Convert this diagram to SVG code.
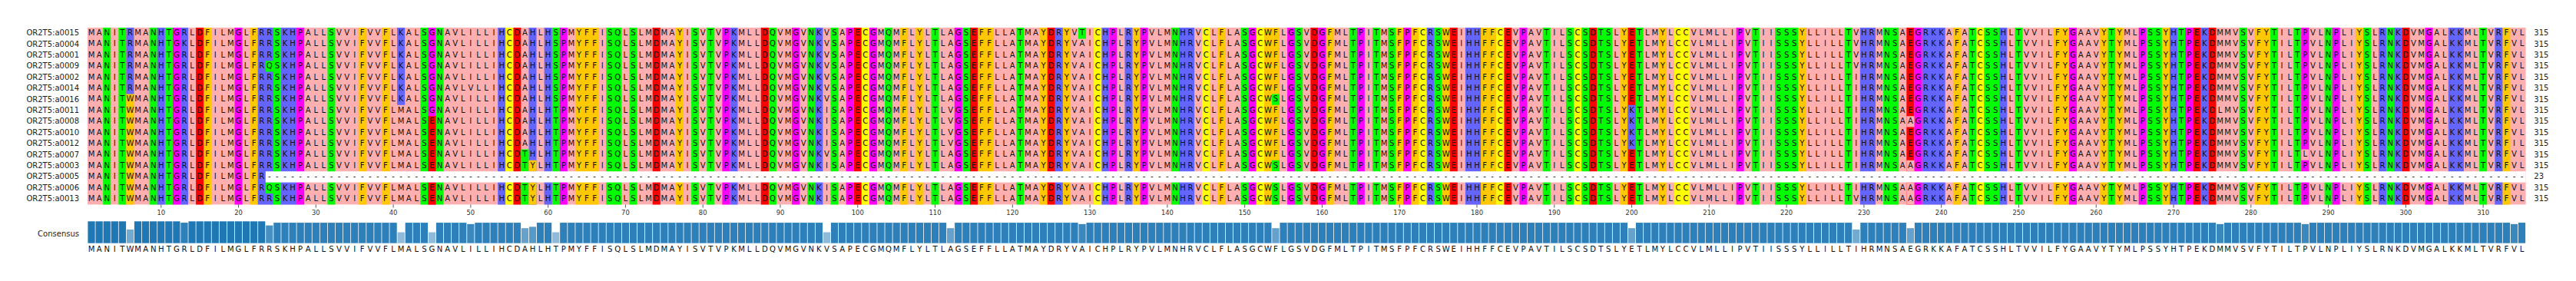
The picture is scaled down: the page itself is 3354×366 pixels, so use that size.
<svg xmlns="http://www.w3.org/2000/svg" width="3354" height="366" viewBox="0 0 3354 366">
<style>
.s{font-family:"DejaVu Sans",sans-serif;font-size:10px;fill:#111;text-anchor:middle}
.l{font-family:"DejaVu Sans",sans-serif;font-size:10px;fill:#222;text-anchor:end}
.n{font-family:"DejaVu Sans",sans-serif;font-size:10px;fill:#222}
.t{font-family:"DejaVu Sans",sans-serif;font-size:8.3px;fill:#333;text-anchor:middle}
.p{fill:#ffafaf}.o{fill:#ffc800}.b{fill:#6464ff}.r{fill:#ff0000}.g{fill:#00ff00}.m{fill:#ff00ff}.y{fill:#ffff00}.w{fill:#ffffff}
</style>
<defs><clipPath id="aln"><rect x="0" y="0" width="3290" height="366"/></clipPath></defs>
<rect width="3354" height="366" fill="#fff"/>
<g id="cells" transform="translate(114,36) scale(10.078,14.4)">
<rect class="p" width="315" height="16"/>
<path class="g" d="M2 0h1v16h-1zM4 0h1v16h-1zM8 0h1v16h-1zM10 0h1v16h-1zM24 0h1v16h-1zM31 0h1v16h-1zM43 0h1v16h-1zM45 0h1v16h-1zM60 0h1v16h-1zM67 0h2v16h-2zM70 0h1v16h-1zM78 0h1v16h-1zM80 0h1v16h-1zM88 0h1v16h-1zM93 0h1v16h-1zM96 0h1v16h-1zM103 0h1v16h-1zM109 0h1v16h-1zM113 0h1v16h-1zM120 0h1v16h-1zM140 0h1v16h-1zM149 0h1v16h-1zM156 0h1v16h-1zM163 0h1v16h-1zM166 0h1v16h-1zM168 0h1v16h-1zM174 0h1v16h-1zM188 0h1v16h-1zM191 0h1v16h-1zM193 0h1v16h-1zM195 0h2v16h-2zM200 0h1v16h-1zM215 0h1v16h-1zM218 0h3v16h-3zM227 0h1v16h-1zM232 0h2v16h-2zM243 0h1v16h-1zM245 0h2v16h-2zM249 0h1v16h-1zM261 0h1v16h-1zM266 0h2v16h-2zM270 0h1v16h-1zM278 0h1v16h-1zM282 0h1v16h-1zM285 0h1v16h-1zM289 0h1v16h-1zM294 0h1v16h-1zM297 0h1v16h-1zM309 0h1v16h-1z"/>
<path class="o" d="M5 0h1v16h-1zM15 0h1v16h-1zM21 0h1v16h-1zM35 0h1v16h-1zM38 0h1v16h-1zM63 0h3v16h-3zM76 0h1v16h-1zM105 0h1v16h-1zM107 0h1v16h-1zM115 0h2v16h-2zM123 0h1v16h-1zM126 0h1v16h-1zM135 0h1v16h-1zM146 0h1v16h-1zM152 0h2v16h-2zM160 0h1v16h-1zM169 0h1v16h-1zM171 0h1v16h-1zM175 0h1v16h-1zM180 0h2v16h-2zM198 0h1v16h-1zM203 0h1v16h-1zM221 0h1v16h-1zM241 0h1v16h-1zM254 0h2v16h-2zM260 0h1v16h-1zM262 0h1v16h-1zM268 0h1v16h-1zM280 0h2v16h-2zM293 0h1v16h-1zM312 0h1v16h-1z"/>
<path class="b" d="M9 0h1v16h-1zM12 0h1v16h-1zM22 0h2v16h-2zM25 0h2v16h-2zM53 0h1v16h-1zM57 0h1v16h-1zM59 0h1v16h-1zM83 0h1v16h-1zM94 0h1v16h-1zM125 0h1v16h-1zM131 0h1v16h-1zM134 0h1v16h-1zM141 0h2v16h-2zM173 0h1v16h-1zM178 0h2v16h-2zM229 0h2v16h-2zM237 0h3v16h-3zM247 0h1v16h-1zM269 0h1v16h-1zM273 0h1v16h-1zM296 0h1v16h-1zM298 0h1v16h-1zM305 0h2v16h-2zM311 0h1v16h-1z"/>
<path class="r" d="M14 0h1v16h-1zM55 0h1v16h-1zM73 0h1v16h-1zM87 0h1v16h-1zM99 0h1v16h-1zM114 0h1v16h-1zM124 0h1v16h-1zM158 0h1v16h-1zM176 0h1v16h-1zM183 0h1v16h-1zM194 0h1v16h-1zM199 0h1v16h-1zM235 0h1v16h-1zM272 0h1v16h-1zM274 0h1v16h-1zM299 0h1v16h-1z"/>
<path class="m" d="M11 0h1v16h-1zM19 0h1v16h-1zM27 0h1v16h-1zM44 0h1v16h-1zM61 0h1v16h-1zM82 0h1v16h-1zM91 0h1v16h-1zM98 0h1v16h-1zM101 0h1v16h-1zM112 0h1v16h-1zM132 0h1v16h-1zM136 0h1v16h-1zM150 0h1v16h-1zM155 0h1v16h-1zM159 0h1v16h-1zM164 0h1v16h-1zM170 0h1v16h-1zM185 0h1v16h-1zM213 0h1v16h-1zM236 0h1v16h-1zM256 0h1v16h-1zM265 0h1v16h-1zM271 0h1v16h-1zM286 0h1v16h-1zM290 0h1v16h-1zM302 0h1v16h-1z"/>
<path class="y" d="M54 0h1v16h-1zM100 0h1v16h-1zM130 0h1v16h-1zM144 0h1v16h-1zM151 0h1v16h-1zM172 0h1v16h-1zM182 0h1v16h-1zM192 0h1v16h-1zM205 0h2v16h-2zM244 0h1v16h-1z"/>
<path class="b" d="M5 0h1v6h-1zM40 0h1v7h-1zM199 7h1v4h-1z"/>
<path class="g" d="M23 3h1v1h-1zM23 14h1v1h-1zM56 11h1v2h-1zM56 14h1v2h-1zM128 0h1v1h-1zM153 6h1v1h-1zM153 12h1v1h-1zM153 14h1v2h-1z"/>
<path class="r" d="M44 8h1v5h-1zM44 14h1v2h-1z"/>
<path class="o" d="M57 12h1v1h-1zM57 14h1v2h-1z"/>
<path class="p" d="M235 8h1v1h-1zM235 12h1v1h-1zM235 14h1v2h-1zM286 11h1v1h-1z"/>
<rect class="w" x="23" y="13" width="292" height="1"/>
</g>
<g id="seq-a0015"><text class="l" x="103" y="46.1">OR2T5:a0015</text><text class="s" transform="translate(114,0) scale(1.0078,1)" y="46.1" x="5 15 25 35 45 55 65 75 85 95 105 115 125 135 145 155 165 175 185 195 205 215 225 235 245 255 265 275 285 295 305 315 325 335 345 355 365 375 385 395 405 415 425 435 445 455 465 475 485 495 505 515 525 535 545 555 565 575 585 595 605 615 625 635 645 655 665 675 685 695 705 715 725 735 745 755 765 775 785 795 805 815 825 835 845 855 865 875 885 895 905 915 925 935 945 955 965 975 985 995 1005 1015 1025 1035 1045 1055 1065 1075 1085 1095 1105 1115 1125 1135 1145 1155 1165 1175 1185 1195 1205 1215 1225 1235 1245 1255 1265 1275 1285 1295 1305 1315 1325 1335 1345 1355 1365 1375 1385 1395 1405 1415 1425 1435 1445 1455 1465 1475 1485 1495 1505 1515 1525 1535 1545 1555 1565 1575 1585 1595 1605 1615 1625 1635 1645 1655 1665 1675 1685 1695 1705 1715 1725 1735 1745 1755 1765 1775 1785 1795 1805 1815 1825 1835 1845 1855 1865 1875 1885 1895 1905 1915 1925 1935 1945 1955 1965 1975 1985 1995 2005 2015 2025 2035 2045 2055 2065 2075 2085 2095 2105 2115 2125 2135 2145 2155 2165 2175 2185 2195 2205 2215 2225 2235 2245 2255 2265 2275 2285 2295 2305 2315 2325 2335 2345 2355 2365 2375 2385 2395 2405 2415 2425 2435 2445 2455 2465 2475 2485 2495 2505 2515 2525 2535 2545 2555 2565 2575 2585 2595 2605 2615 2625 2635 2645 2655 2665 2675 2685 2695 2705 2715 2725 2735 2745 2755 2765 2775 2785 2795 2805 2815 2825 2835 2845 2855 2865 2875 2885 2895 2905 2915 2925 2935 2945 2955 2965 2975 2985 2995 3005 3015 3025 3035 3045 3055 3065 3075 3085 3095 3105 3115 3125 3135 3145">MANITRMANHTGRLDFILMGLFRRSKHPALLSVVIFVVFLKALSGNAVLILLIHCDAHLHSPMYFFISQLSLMDMAYISVTVPKMLLDQVMGVNKVSAPECGMQMFLYLTLAGSEFFLLATMAYDRYVTICHPLRYPVLMNHRVCLFLASGCWFLGSVDGFMLTPITMSFPFCRSWEIHHFFCEVPAVTILSCSDTSLYETLMYLCCVLMLLIPVTIISSSYLLILLTVHRMNSAEGRKKAFATCSSHLTVVILFYGAAVYTYMLPSSYHTPEKDMMVSVFYTILTPVLNPLIYSLRNKDVMGALKKMLTVRFVL</text><text class="n" x="3299.3" y="46.1">315</text></g>
<g id="seq-a0004"><text class="l" x="103" y="60.5">OR2T5:a0004</text><text class="s" transform="translate(114,0) scale(1.0078,1)" y="60.5" x="5 15 25 35 45 55 65 75 85 95 105 115 125 135 145 155 165 175 185 195 205 215 225 235 245 255 265 275 285 295 305 315 325 335 345 355 365 375 385 395 405 415 425 435 445 455 465 475 485 495 505 515 525 535 545 555 565 575 585 595 605 615 625 635 645 655 665 675 685 695 705 715 725 735 745 755 765 775 785 795 805 815 825 835 845 855 865 875 885 895 905 915 925 935 945 955 965 975 985 995 1005 1015 1025 1035 1045 1055 1065 1075 1085 1095 1105 1115 1125 1135 1145 1155 1165 1175 1185 1195 1205 1215 1225 1235 1245 1255 1265 1275 1285 1295 1305 1315 1325 1335 1345 1355 1365 1375 1385 1395 1405 1415 1425 1435 1445 1455 1465 1475 1485 1495 1505 1515 1525 1535 1545 1555 1565 1575 1585 1595 1605 1615 1625 1635 1645 1655 1665 1675 1685 1695 1705 1715 1725 1735 1745 1755 1765 1775 1785 1795 1805 1815 1825 1835 1845 1855 1865 1875 1885 1895 1905 1915 1925 1935 1945 1955 1965 1975 1985 1995 2005 2015 2025 2035 2045 2055 2065 2075 2085 2095 2105 2115 2125 2135 2145 2155 2165 2175 2185 2195 2205 2215 2225 2235 2245 2255 2265 2275 2285 2295 2305 2315 2325 2335 2345 2355 2365 2375 2385 2395 2405 2415 2425 2435 2445 2455 2465 2475 2485 2495 2505 2515 2525 2535 2545 2555 2565 2575 2585 2595 2605 2615 2625 2635 2645 2655 2665 2675 2685 2695 2705 2715 2725 2735 2745 2755 2765 2775 2785 2795 2805 2815 2825 2835 2845 2855 2865 2875 2885 2895 2905 2915 2925 2935 2945 2955 2965 2975 2985 2995 3005 3015 3025 3035 3045 3055 3065 3075 3085 3095 3105 3115 3125 3135 3145">MANITRMANHTGKLDFILMGLFRRSKHPALLSVVIFVVFLKALSGNAVLILLIHCDAHLHSPMYFFISQLSLMDMAYISVTVPKMLLDQVMGVNKVSAPECGMQMFLYLTLAGSEFFLLATMAYDRYVAICHPLRYPVLMNHRVCLFLASGCWFLGSVDGFMLTPITMSFPFCRSWEIHHFFCEVPAVTILSCSDTSLYETLMYLCCVLMLLIPVTIISSSYLLILLTVHRMNSAEGRKKAFATCSSHLTVVILFYGAAVYTYMLPSSYHTPEKDMMVSVFYTILTPVLNPLIYSLRNKDVMGALKKMLTVRFVL</text><text class="n" x="3299.3" y="60.5">315</text></g>
<g id="seq-a0001"><text class="l" x="103" y="74.9">OR2T5:a0001</text><text class="s" transform="translate(114,0) scale(1.0078,1)" y="74.9" x="5 15 25 35 45 55 65 75 85 95 105 115 125 135 145 155 165 175 185 195 205 215 225 235 245 255 265 275 285 295 305 315 325 335 345 355 365 375 385 395 405 415 425 435 445 455 465 475 485 495 505 515 525 535 545 555 565 575 585 595 605 615 625 635 645 655 665 675 685 695 705 715 725 735 745 755 765 775 785 795 805 815 825 835 845 855 865 875 885 895 905 915 925 935 945 955 965 975 985 995 1005 1015 1025 1035 1045 1055 1065 1075 1085 1095 1105 1115 1125 1135 1145 1155 1165 1175 1185 1195 1205 1215 1225 1235 1245 1255 1265 1275 1285 1295 1305 1315 1325 1335 1345 1355 1365 1375 1385 1395 1405 1415 1425 1435 1445 1455 1465 1475 1485 1495 1505 1515 1525 1535 1545 1555 1565 1575 1585 1595 1605 1615 1625 1635 1645 1655 1665 1675 1685 1695 1705 1715 1725 1735 1745 1755 1765 1775 1785 1795 1805 1815 1825 1835 1845 1855 1865 1875 1885 1895 1905 1915 1925 1935 1945 1955 1965 1975 1985 1995 2005 2015 2025 2035 2045 2055 2065 2075 2085 2095 2105 2115 2125 2135 2145 2155 2165 2175 2185 2195 2205 2215 2225 2235 2245 2255 2265 2275 2285 2295 2305 2315 2325 2335 2345 2355 2365 2375 2385 2395 2405 2415 2425 2435 2445 2455 2465 2475 2485 2495 2505 2515 2525 2535 2545 2555 2565 2575 2585 2595 2605 2615 2625 2635 2645 2655 2665 2675 2685 2695 2705 2715 2725 2735 2745 2755 2765 2775 2785 2795 2805 2815 2825 2835 2845 2855 2865 2875 2885 2895 2905 2915 2925 2935 2945 2955 2965 2975 2985 2995 3005 3015 3025 3035 3045 3055 3065 3075 3085 3095 3105 3115 3125 3135 3145">MANITRMANHTGRLDFILMGLFRRSKHPALLSVVIFVVFLKALSGNAVLILLIHCDAHLHSPMYFFISQLSLMDMAYISVTVPKMLLDQVMGVNKVSAPECGMQMFLYLTLAGSEFFLLATMAYDRYVAICHPLRYPVLMNHRVCLFLASGCWFLGSVDGFMLTPITMSFPFCRSWEIHHFFCEVPAVTILSCSDTSLYETLMYLCCVLMLLIPVTIISSSYLLILLTVHRMNSAEGRKKAFATCSSHLTVVILFYGAAVYTYMLPSSYHTPEKDMMVSVFYTILTPVLNPLIYSLRNKDVMGALKKMLTVRFVL</text><text class="n" x="3299.3" y="74.9">315</text></g>
<g id="seq-a0009"><text class="l" x="103" y="89.3">OR2T5:a0009</text><text class="s" transform="translate(114,0) scale(1.0078,1)" y="89.3" x="5 15 25 35 45 55 65 75 85 95 105 115 125 135 145 155 165 175 185 195 205 215 225 235 245 255 265 275 285 295 305 315 325 335 345 355 365 375 385 395 405 415 425 435 445 455 465 475 485 495 505 515 525 535 545 555 565 575 585 595 605 615 625 635 645 655 665 675 685 695 705 715 725 735 745 755 765 775 785 795 805 815 825 835 845 855 865 875 885 895 905 915 925 935 945 955 965 975 985 995 1005 1015 1025 1035 1045 1055 1065 1075 1085 1095 1105 1115 1125 1135 1145 1155 1165 1175 1185 1195 1205 1215 1225 1235 1245 1255 1265 1275 1285 1295 1305 1315 1325 1335 1345 1355 1365 1375 1385 1395 1405 1415 1425 1435 1445 1455 1465 1475 1485 1495 1505 1515 1525 1535 1545 1555 1565 1575 1585 1595 1605 1615 1625 1635 1645 1655 1665 1675 1685 1695 1705 1715 1725 1735 1745 1755 1765 1775 1785 1795 1805 1815 1825 1835 1845 1855 1865 1875 1885 1895 1905 1915 1925 1935 1945 1955 1965 1975 1985 1995 2005 2015 2025 2035 2045 2055 2065 2075 2085 2095 2105 2115 2125 2135 2145 2155 2165 2175 2185 2195 2205 2215 2225 2235 2245 2255 2265 2275 2285 2295 2305 2315 2325 2335 2345 2355 2365 2375 2385 2395 2405 2415 2425 2435 2445 2455 2465 2475 2485 2495 2505 2515 2525 2535 2545 2555 2565 2575 2585 2595 2605 2615 2625 2635 2645 2655 2665 2675 2685 2695 2705 2715 2725 2735 2745 2755 2765 2775 2785 2795 2805 2815 2825 2835 2845 2855 2865 2875 2885 2895 2905 2915 2925 2935 2945 2955 2965 2975 2985 2995 3005 3015 3025 3035 3045 3055 3065 3075 3085 3095 3105 3115 3125 3135 3145">MANITRMANHTGRLDFILMGLFRQSKHPALLSVVIFVVFLKALSGNAVLILLIHCDAHLHSPMYFFISQLSLMDMAYISVTVPKMLLDQVMGVNKVSAPECGMQMFLYLTLAGSEFFLLATMAYDRYVAICHPLRYPVLMNHRVCLFLASGCWFLGSVDGFMLTPITMSFPFCRSWEIHHFFCEVPAVTILSCSDTSLYETLMYLCCVLMLLIPVTIISSSYLLILLTVHRMNSAEGRKKAFATCSSHLTVVILFYGAAVYTYMLPSSYHTPEKDMMVSVFYTILTPVLNPLIYSLRNKDVMGALKKMLTVRFVL</text><text class="n" x="3299.3" y="89.3">315</text></g>
<g id="seq-a0002"><text class="l" x="103" y="103.7">OR2T5:a0002</text><text class="s" transform="translate(114,0) scale(1.0078,1)" y="103.7" x="5 15 25 35 45 55 65 75 85 95 105 115 125 135 145 155 165 175 185 195 205 215 225 235 245 255 265 275 285 295 305 315 325 335 345 355 365 375 385 395 405 415 425 435 445 455 465 475 485 495 505 515 525 535 545 555 565 575 585 595 605 615 625 635 645 655 665 675 685 695 705 715 725 735 745 755 765 775 785 795 805 815 825 835 845 855 865 875 885 895 905 915 925 935 945 955 965 975 985 995 1005 1015 1025 1035 1045 1055 1065 1075 1085 1095 1105 1115 1125 1135 1145 1155 1165 1175 1185 1195 1205 1215 1225 1235 1245 1255 1265 1275 1285 1295 1305 1315 1325 1335 1345 1355 1365 1375 1385 1395 1405 1415 1425 1435 1445 1455 1465 1475 1485 1495 1505 1515 1525 1535 1545 1555 1565 1575 1585 1595 1605 1615 1625 1635 1645 1655 1665 1675 1685 1695 1705 1715 1725 1735 1745 1755 1765 1775 1785 1795 1805 1815 1825 1835 1845 1855 1865 1875 1885 1895 1905 1915 1925 1935 1945 1955 1965 1975 1985 1995 2005 2015 2025 2035 2045 2055 2065 2075 2085 2095 2105 2115 2125 2135 2145 2155 2165 2175 2185 2195 2205 2215 2225 2235 2245 2255 2265 2275 2285 2295 2305 2315 2325 2335 2345 2355 2365 2375 2385 2395 2405 2415 2425 2435 2445 2455 2465 2475 2485 2495 2505 2515 2525 2535 2545 2555 2565 2575 2585 2595 2605 2615 2625 2635 2645 2655 2665 2675 2685 2695 2705 2715 2725 2735 2745 2755 2765 2775 2785 2795 2805 2815 2825 2835 2845 2855 2865 2875 2885 2895 2905 2915 2925 2935 2945 2955 2965 2975 2985 2995 3005 3015 3025 3035 3045 3055 3065 3075 3085 3095 3105 3115 3125 3135 3145">MANITRMANHTGRLDFILMGLFRRSKHPALLSVVIFVVFLKALSGNAVLILLIHCDAHLHSPMYFFISQLSLMDMAYISVTVPKMLLDQVMGVNKVSAPECGMQMFLYLTLAGSEFFLLATMAYDRYVAICHPLRYPVLMNHRVCLFLASGCWFLGSVDGFMLTPITMSFPFCRSWEIHHFFCEVPAVTILSCSDTSLYETLMYLCCVLMLLIPVTIISSSYLLILLTIHRMNSAEGRKKAFATCSSHLTVVILFYGAAVYTYMLPSSYHTPEKDMMVSVFYTILTPVLNPLIYSLRNKDVMGALKKMLTVRFVL</text><text class="n" x="3299.3" y="103.7">315</text></g>
<g id="seq-a0014"><text class="l" x="103" y="118.1">OR2T5:a0014</text><text class="s" transform="translate(114,0) scale(1.0078,1)" y="118.1" x="5 15 25 35 45 55 65 75 85 95 105 115 125 135 145 155 165 175 185 195 205 215 225 235 245 255 265 275 285 295 305 315 325 335 345 355 365 375 385 395 405 415 425 435 445 455 465 475 485 495 505 515 525 535 545 555 565 575 585 595 605 615 625 635 645 655 665 675 685 695 705 715 725 735 745 755 765 775 785 795 805 815 825 835 845 855 865 875 885 895 905 915 925 935 945 955 965 975 985 995 1005 1015 1025 1035 1045 1055 1065 1075 1085 1095 1105 1115 1125 1135 1145 1155 1165 1175 1185 1195 1205 1215 1225 1235 1245 1255 1265 1275 1285 1295 1305 1315 1325 1335 1345 1355 1365 1375 1385 1395 1405 1415 1425 1435 1445 1455 1465 1475 1485 1495 1505 1515 1525 1535 1545 1555 1565 1575 1585 1595 1605 1615 1625 1635 1645 1655 1665 1675 1685 1695 1705 1715 1725 1735 1745 1755 1765 1775 1785 1795 1805 1815 1825 1835 1845 1855 1865 1875 1885 1895 1905 1915 1925 1935 1945 1955 1965 1975 1985 1995 2005 2015 2025 2035 2045 2055 2065 2075 2085 2095 2105 2115 2125 2135 2145 2155 2165 2175 2185 2195 2205 2215 2225 2235 2245 2255 2265 2275 2285 2295 2305 2315 2325 2335 2345 2355 2365 2375 2385 2395 2405 2415 2425 2435 2445 2455 2465 2475 2485 2495 2505 2515 2525 2535 2545 2555 2565 2575 2585 2595 2605 2615 2625 2635 2645 2655 2665 2675 2685 2695 2705 2715 2725 2735 2745 2755 2765 2775 2785 2795 2805 2815 2825 2835 2845 2855 2865 2875 2885 2895 2905 2915 2925 2935 2945 2955 2965 2975 2985 2995 3005 3015 3025 3035 3045 3055 3065 3075 3085 3095 3105 3115 3125 3135 3145">MANITRMANHTGRLDFILMGLFRRSKHPALLSVVIFVVFLKALSGNAVLVLLIHCDAHLHSPMYFFISQLSLMDMAYISVTVPKMLLDQVMGVNKVSAPECGMQMFLYLTLAGSEFFLLATMAYDRYVAICHPLRYPVLMNHRVCLFLASGCWFLGSVDGFMLTPITMSFPFCRSWEIHHFFCEVPAVTILSCSDTSLYETLMYLCCVLMLLIPVTIISSSYLLILLTIHRMNSAEGRKKAFATCSSHLTVVILFYGAAVYTYMLPSSYHTPEKDMMVSVFYTILTPVLNPLIYSLRNKDVMGALKKMLTVRFVL</text><text class="n" x="3299.3" y="118.1">315</text></g>
<g id="seq-a0016"><text class="l" x="103" y="132.5">OR2T5:a0016</text><text class="s" transform="translate(114,0) scale(1.0078,1)" y="132.5" x="5 15 25 35 45 55 65 75 85 95 105 115 125 135 145 155 165 175 185 195 205 215 225 235 245 255 265 275 285 295 305 315 325 335 345 355 365 375 385 395 405 415 425 435 445 455 465 475 485 495 505 515 525 535 545 555 565 575 585 595 605 615 625 635 645 655 665 675 685 695 705 715 725 735 745 755 765 775 785 795 805 815 825 835 845 855 865 875 885 895 905 915 925 935 945 955 965 975 985 995 1005 1015 1025 1035 1045 1055 1065 1075 1085 1095 1105 1115 1125 1135 1145 1155 1165 1175 1185 1195 1205 1215 1225 1235 1245 1255 1265 1275 1285 1295 1305 1315 1325 1335 1345 1355 1365 1375 1385 1395 1405 1415 1425 1435 1445 1455 1465 1475 1485 1495 1505 1515 1525 1535 1545 1555 1565 1575 1585 1595 1605 1615 1625 1635 1645 1655 1665 1675 1685 1695 1705 1715 1725 1735 1745 1755 1765 1775 1785 1795 1805 1815 1825 1835 1845 1855 1865 1875 1885 1895 1905 1915 1925 1935 1945 1955 1965 1975 1985 1995 2005 2015 2025 2035 2045 2055 2065 2075 2085 2095 2105 2115 2125 2135 2145 2155 2165 2175 2185 2195 2205 2215 2225 2235 2245 2255 2265 2275 2285 2295 2305 2315 2325 2335 2345 2355 2365 2375 2385 2395 2405 2415 2425 2435 2445 2455 2465 2475 2485 2495 2505 2515 2525 2535 2545 2555 2565 2575 2585 2595 2605 2615 2625 2635 2645 2655 2665 2675 2685 2695 2705 2715 2725 2735 2745 2755 2765 2775 2785 2795 2805 2815 2825 2835 2845 2855 2865 2875 2885 2895 2905 2915 2925 2935 2945 2955 2965 2975 2985 2995 3005 3015 3025 3035 3045 3055 3065 3075 3085 3095 3105 3115 3125 3135 3145">MANITWMANHTGRLDFILMGLFRRSKHPALLSVVIFVVFLKALSGNAVLILLIHCDAHLHSPMYFFISQLSLMDMAYISVTVPKMLLDQVMGVNKVSAPECGMQMFLYLTLAGSEFFLLATMAYDRYVAICHPLRYPVLMNHRVCLFLASGCWSLGSVDGFMLTPITMSFPFCRSWEIHHFFCEVPAVTILSCSDTSLYETLMYLCCVLMLLIPVTIISSSYLLILLTIHRMNSAEGRKKAFATCSSHLTVVILFYGAAVYTYMLPSSYHTPEKDMMVSVFYTILTPVLNPLIYSLRNKDVMGALKKMLTVRFVL</text><text class="n" x="3299.3" y="132.5">315</text></g>
<g id="seq-a0011"><text class="l" x="103" y="146.9">OR2T5:a0011</text><text class="s" transform="translate(114,0) scale(1.0078,1)" y="146.9" x="5 15 25 35 45 55 65 75 85 95 105 115 125 135 145 155 165 175 185 195 205 215 225 235 245 255 265 275 285 295 305 315 325 335 345 355 365 375 385 395 405 415 425 435 445 455 465 475 485 495 505 515 525 535 545 555 565 575 585 595 605 615 625 635 645 655 665 675 685 695 705 715 725 735 745 755 765 775 785 795 805 815 825 835 845 855 865 875 885 895 905 915 925 935 945 955 965 975 985 995 1005 1015 1025 1035 1045 1055 1065 1075 1085 1095 1105 1115 1125 1135 1145 1155 1165 1175 1185 1195 1205 1215 1225 1235 1245 1255 1265 1275 1285 1295 1305 1315 1325 1335 1345 1355 1365 1375 1385 1395 1405 1415 1425 1435 1445 1455 1465 1475 1485 1495 1505 1515 1525 1535 1545 1555 1565 1575 1585 1595 1605 1615 1625 1635 1645 1655 1665 1675 1685 1695 1705 1715 1725 1735 1745 1755 1765 1775 1785 1795 1805 1815 1825 1835 1845 1855 1865 1875 1885 1895 1905 1915 1925 1935 1945 1955 1965 1975 1985 1995 2005 2015 2025 2035 2045 2055 2065 2075 2085 2095 2105 2115 2125 2135 2145 2155 2165 2175 2185 2195 2205 2215 2225 2235 2245 2255 2265 2275 2285 2295 2305 2315 2325 2335 2345 2355 2365 2375 2385 2395 2405 2415 2425 2435 2445 2455 2465 2475 2485 2495 2505 2515 2525 2535 2545 2555 2565 2575 2585 2595 2605 2615 2625 2635 2645 2655 2665 2675 2685 2695 2705 2715 2725 2735 2745 2755 2765 2775 2785 2795 2805 2815 2825 2835 2845 2855 2865 2875 2885 2895 2905 2915 2925 2935 2945 2955 2965 2975 2985 2995 3005 3015 3025 3035 3045 3055 3065 3075 3085 3095 3105 3115 3125 3135 3145">MANITWMANHTGRLDFILMGLFRRSKHPALLSVVIFVVFLMALSGNAVLILLIHCDAHLHTPMYFFISQLSLMDMAYISVTVPKMLLDQVMGVNKISAPECGMQMFLYLTLVGSEFFLLATMAYDRYVAICHPLRYPVLMNHRVCLFLASGCWFLGSVDGFMLTPITMSFPFCRSWEIHHFFCEVPAVTILSCSDTSLYKTLMYLCCVLMLLIPVTIISSSYLLILLTIHRMNSAEGRKKAFATCSSHLTVVILFYGAAVYTYMLPSSYHTPEKDLMVSVFYTILTPVLNPLIYSLRNKDVMGALKKMLTVRFVL</text><text class="n" x="3299.3" y="146.9">315</text></g>
<g id="seq-a0008"><text class="l" x="103" y="161.3">OR2T5:a0008</text><text class="s" transform="translate(114,0) scale(1.0078,1)" y="161.3" x="5 15 25 35 45 55 65 75 85 95 105 115 125 135 145 155 165 175 185 195 205 215 225 235 245 255 265 275 285 295 305 315 325 335 345 355 365 375 385 395 405 415 425 435 445 455 465 475 485 495 505 515 525 535 545 555 565 575 585 595 605 615 625 635 645 655 665 675 685 695 705 715 725 735 745 755 765 775 785 795 805 815 825 835 845 855 865 875 885 895 905 915 925 935 945 955 965 975 985 995 1005 1015 1025 1035 1045 1055 1065 1075 1085 1095 1105 1115 1125 1135 1145 1155 1165 1175 1185 1195 1205 1215 1225 1235 1245 1255 1265 1275 1285 1295 1305 1315 1325 1335 1345 1355 1365 1375 1385 1395 1405 1415 1425 1435 1445 1455 1465 1475 1485 1495 1505 1515 1525 1535 1545 1555 1565 1575 1585 1595 1605 1615 1625 1635 1645 1655 1665 1675 1685 1695 1705 1715 1725 1735 1745 1755 1765 1775 1785 1795 1805 1815 1825 1835 1845 1855 1865 1875 1885 1895 1905 1915 1925 1935 1945 1955 1965 1975 1985 1995 2005 2015 2025 2035 2045 2055 2065 2075 2085 2095 2105 2115 2125 2135 2145 2155 2165 2175 2185 2195 2205 2215 2225 2235 2245 2255 2265 2275 2285 2295 2305 2315 2325 2335 2345 2355 2365 2375 2385 2395 2405 2415 2425 2435 2445 2455 2465 2475 2485 2495 2505 2515 2525 2535 2545 2555 2565 2575 2585 2595 2605 2615 2625 2635 2645 2655 2665 2675 2685 2695 2705 2715 2725 2735 2745 2755 2765 2775 2785 2795 2805 2815 2825 2835 2845 2855 2865 2875 2885 2895 2905 2915 2925 2935 2945 2955 2965 2975 2985 2995 3005 3015 3025 3035 3045 3055 3065 3075 3085 3095 3105 3115 3125 3135 3145">MANITWMANHTGRLDFILMGLFRRSKHPALLSVVIFVVFLMALSENAVLILLIHCDAHLHTPMYFFISQLSLMDMAYISVTVPKMLLDQVMGVNKISAPECGMQMFLYLTLVGSEFFLLATMAYDRYVAICHPLRYPVLMNHRVCLFLASGCWFLGSVDGFMLTPITMSFPFCRSWEIHHFFCEVPAVTILSCSDTSLYKTLMYLCCVLMLLIPVTIISSSYLLILLTIHRMNSAAGRKKAFATCSSHLTVVILFYGAAVYTYMLPSSYHTPEKDMMVSVFYTILTPVLNPLIYSLRNKDVMGALKKMLTVRFVL</text><text class="n" x="3299.3" y="161.3">315</text></g>
<g id="seq-a0010"><text class="l" x="103" y="175.7">OR2T5:a0010</text><text class="s" transform="translate(114,0) scale(1.0078,1)" y="175.7" x="5 15 25 35 45 55 65 75 85 95 105 115 125 135 145 155 165 175 185 195 205 215 225 235 245 255 265 275 285 295 305 315 325 335 345 355 365 375 385 395 405 415 425 435 445 455 465 475 485 495 505 515 525 535 545 555 565 575 585 595 605 615 625 635 645 655 665 675 685 695 705 715 725 735 745 755 765 775 785 795 805 815 825 835 845 855 865 875 885 895 905 915 925 935 945 955 965 975 985 995 1005 1015 1025 1035 1045 1055 1065 1075 1085 1095 1105 1115 1125 1135 1145 1155 1165 1175 1185 1195 1205 1215 1225 1235 1245 1255 1265 1275 1285 1295 1305 1315 1325 1335 1345 1355 1365 1375 1385 1395 1405 1415 1425 1435 1445 1455 1465 1475 1485 1495 1505 1515 1525 1535 1545 1555 1565 1575 1585 1595 1605 1615 1625 1635 1645 1655 1665 1675 1685 1695 1705 1715 1725 1735 1745 1755 1765 1775 1785 1795 1805 1815 1825 1835 1845 1855 1865 1875 1885 1895 1905 1915 1925 1935 1945 1955 1965 1975 1985 1995 2005 2015 2025 2035 2045 2055 2065 2075 2085 2095 2105 2115 2125 2135 2145 2155 2165 2175 2185 2195 2205 2215 2225 2235 2245 2255 2265 2275 2285 2295 2305 2315 2325 2335 2345 2355 2365 2375 2385 2395 2405 2415 2425 2435 2445 2455 2465 2475 2485 2495 2505 2515 2525 2535 2545 2555 2565 2575 2585 2595 2605 2615 2625 2635 2645 2655 2665 2675 2685 2695 2705 2715 2725 2735 2745 2755 2765 2775 2785 2795 2805 2815 2825 2835 2845 2855 2865 2875 2885 2895 2905 2915 2925 2935 2945 2955 2965 2975 2985 2995 3005 3015 3025 3035 3045 3055 3065 3075 3085 3095 3105 3115 3125 3135 3145">MANITWMANHTGRLDFILMGLFRRSKHPALLSVVIFVVFLMALSENAVLILLIHCDAHLHTPMYFFISQLSLMDMAYISVTVPKMLLDQVMGVNKISAPECGMQMFLYLTLVGSEFFLLATMAYDRYVAICHPLRYPVLMNHRVCLFLASGCWFLGSVDGFMLTPITMSFPFCRSWEIHHFFCEVPAVTILSCSDTSLYKTLMYLCCVLMLLIPVTIISSSYLLILLTIHRMNSAEGRKKAFATCSSHLTVVILFYGAAVYTYMLPSSYHTPEKDMMVSVFYTILTPVLNPLIYSLRNKDVMGALKKMLTVRFVL</text><text class="n" x="3299.3" y="175.7">315</text></g>
<g id="seq-a0012"><text class="l" x="103" y="190.1">OR2T5:a0012</text><text class="s" transform="translate(114,0) scale(1.0078,1)" y="190.1" x="5 15 25 35 45 55 65 75 85 95 105 115 125 135 145 155 165 175 185 195 205 215 225 235 245 255 265 275 285 295 305 315 325 335 345 355 365 375 385 395 405 415 425 435 445 455 465 475 485 495 505 515 525 535 545 555 565 575 585 595 605 615 625 635 645 655 665 675 685 695 705 715 725 735 745 755 765 775 785 795 805 815 825 835 845 855 865 875 885 895 905 915 925 935 945 955 965 975 985 995 1005 1015 1025 1035 1045 1055 1065 1075 1085 1095 1105 1115 1125 1135 1145 1155 1165 1175 1185 1195 1205 1215 1225 1235 1245 1255 1265 1275 1285 1295 1305 1315 1325 1335 1345 1355 1365 1375 1385 1395 1405 1415 1425 1435 1445 1455 1465 1475 1485 1495 1505 1515 1525 1535 1545 1555 1565 1575 1585 1595 1605 1615 1625 1635 1645 1655 1665 1675 1685 1695 1705 1715 1725 1735 1745 1755 1765 1775 1785 1795 1805 1815 1825 1835 1845 1855 1865 1875 1885 1895 1905 1915 1925 1935 1945 1955 1965 1975 1985 1995 2005 2015 2025 2035 2045 2055 2065 2075 2085 2095 2105 2115 2125 2135 2145 2155 2165 2175 2185 2195 2205 2215 2225 2235 2245 2255 2265 2275 2285 2295 2305 2315 2325 2335 2345 2355 2365 2375 2385 2395 2405 2415 2425 2435 2445 2455 2465 2475 2485 2495 2505 2515 2525 2535 2545 2555 2565 2575 2585 2595 2605 2615 2625 2635 2645 2655 2665 2675 2685 2695 2705 2715 2725 2735 2745 2755 2765 2775 2785 2795 2805 2815 2825 2835 2845 2855 2865 2875 2885 2895 2905 2915 2925 2935 2945 2955 2965 2975 2985 2995 3005 3015 3025 3035 3045 3055 3065 3075 3085 3095 3105 3115 3125 3135 3145">MANITWMANHTGRLDFILMGLFRRSKHPALLSVVIFVVFLMALSENAVLILLIHCDAHLHTPMYFFISQLSLMDMAYISVTVPKMLLDQVMGVNKISAPECGMQMFLYLTLVGSEFFLLATMAYDRYVAICHPLRYPVLMNHRVCLFLASGCWFLGSVDGFMLTPITMSFPFCRSWEIHHFFCEVPAVTILSCSDTSLYKTLMYLCCVLMLLIPVTIISSSYLLILLTIHRMNSAEGRKKAFATCSSHLTVVILFYGAAVYTYMLPSSYHTPEKDMMVSVFYTILTPVLNPLIYSLRNKDVMGALKKMLTVRFIL</text><text class="n" x="3299.3" y="190.1">315</text></g>
<g id="seq-a0007"><text class="l" x="103" y="204.5">OR2T5:a0007</text><text class="s" transform="translate(114,0) scale(1.0078,1)" y="204.5" x="5 15 25 35 45 55 65 75 85 95 105 115 125 135 145 155 165 175 185 195 205 215 225 235 245 255 265 275 285 295 305 315 325 335 345 355 365 375 385 395 405 415 425 435 445 455 465 475 485 495 505 515 525 535 545 555 565 575 585 595 605 615 625 635 645 655 665 675 685 695 705 715 725 735 745 755 765 775 785 795 805 815 825 835 845 855 865 875 885 895 905 915 925 935 945 955 965 975 985 995 1005 1015 1025 1035 1045 1055 1065 1075 1085 1095 1105 1115 1125 1135 1145 1155 1165 1175 1185 1195 1205 1215 1225 1235 1245 1255 1265 1275 1285 1295 1305 1315 1325 1335 1345 1355 1365 1375 1385 1395 1405 1415 1425 1435 1445 1455 1465 1475 1485 1495 1505 1515 1525 1535 1545 1555 1565 1575 1585 1595 1605 1615 1625 1635 1645 1655 1665 1675 1685 1695 1705 1715 1725 1735 1745 1755 1765 1775 1785 1795 1805 1815 1825 1835 1845 1855 1865 1875 1885 1895 1905 1915 1925 1935 1945 1955 1965 1975 1985 1995 2005 2015 2025 2035 2045 2055 2065 2075 2085 2095 2105 2115 2125 2135 2145 2155 2165 2175 2185 2195 2205 2215 2225 2235 2245 2255 2265 2275 2285 2295 2305 2315 2325 2335 2345 2355 2365 2375 2385 2395 2405 2415 2425 2435 2445 2455 2465 2475 2485 2495 2505 2515 2525 2535 2545 2555 2565 2575 2585 2595 2605 2615 2625 2635 2645 2655 2665 2675 2685 2695 2705 2715 2725 2735 2745 2755 2765 2775 2785 2795 2805 2815 2825 2835 2845 2855 2865 2875 2885 2895 2905 2915 2925 2935 2945 2955 2965 2975 2985 2995 3005 3015 3025 3035 3045 3055 3065 3075 3085 3095 3105 3115 3125 3135 3145">MANITWMANHTGRLDFILMGLFRRSKHPALLSVVIFVVFLMALSENAVLILLIHCDTHLHTPMYFFISQLSLMDMAYISVTVPKMLLDQVMGVNKVSAPECGMQMFLYLTLAGSEFFLLATMAYDRYVAICHPLRYPVLMNHRVCLFLASGCWFLGSVDGFMLTPITMSFPFCRSWEIHHFFCEVPAVTILSCSDTSLYETLMYLCCVLMLLIPVTIISSSYLLILLTIHRMNSAEGRKKAFATCSSHLTVVILFYGAAVYTYMLPSSYHTPEKDMMVSVFYTILTLVLNPLIYSLRNKDVMGALKKMLTVRFVL</text><text class="n" x="3299.3" y="204.5">315</text></g>
<g id="seq-a0003"><text class="l" x="103" y="218.9">OR2T5:a0003</text><text class="s" transform="translate(114,0) scale(1.0078,1)" y="218.9" x="5 15 25 35 45 55 65 75 85 95 105 115 125 135 145 155 165 175 185 195 205 215 225 235 245 255 265 275 285 295 305 315 325 335 345 355 365 375 385 395 405 415 425 435 445 455 465 475 485 495 505 515 525 535 545 555 565 575 585 595 605 615 625 635 645 655 665 675 685 695 705 715 725 735 745 755 765 775 785 795 805 815 825 835 845 855 865 875 885 895 905 915 925 935 945 955 965 975 985 995 1005 1015 1025 1035 1045 1055 1065 1075 1085 1095 1105 1115 1125 1135 1145 1155 1165 1175 1185 1195 1205 1215 1225 1235 1245 1255 1265 1275 1285 1295 1305 1315 1325 1335 1345 1355 1365 1375 1385 1395 1405 1415 1425 1435 1445 1455 1465 1475 1485 1495 1505 1515 1525 1535 1545 1555 1565 1575 1585 1595 1605 1615 1625 1635 1645 1655 1665 1675 1685 1695 1705 1715 1725 1735 1745 1755 1765 1775 1785 1795 1805 1815 1825 1835 1845 1855 1865 1875 1885 1895 1905 1915 1925 1935 1945 1955 1965 1975 1985 1995 2005 2015 2025 2035 2045 2055 2065 2075 2085 2095 2105 2115 2125 2135 2145 2155 2165 2175 2185 2195 2205 2215 2225 2235 2245 2255 2265 2275 2285 2295 2305 2315 2325 2335 2345 2355 2365 2375 2385 2395 2405 2415 2425 2435 2445 2455 2465 2475 2485 2495 2505 2515 2525 2535 2545 2555 2565 2575 2585 2595 2605 2615 2625 2635 2645 2655 2665 2675 2685 2695 2705 2715 2725 2735 2745 2755 2765 2775 2785 2795 2805 2815 2825 2835 2845 2855 2865 2875 2885 2895 2905 2915 2925 2935 2945 2955 2965 2975 2985 2995 3005 3015 3025 3035 3045 3055 3065 3075 3085 3095 3105 3115 3125 3135 3145">MANITWMANHTGRLDFILMGLFRRSKHPALLSVVIFVVFLMALSENAVLILLIHCDTYLHTPMYFFISQLSLMDMAYISVTVPKMLLDQVMGVNKISAPECGMQMFLYLTLAGSEFFLLATMAYDRYVAICHPLRYPVLMNHRVCLFLASGCWSLGSVDGFMLTPITMSFPFCRSWEIHHFFCEVPAVTILSCSDTSLYETLMYLCCVLMLLIPVTIISSSYLLILLTIHRMNSAAGRKKAFATCSSHLTVVILFYGAAVYTYMLPSSYHTPEKDMMVSVFYTILTPVLNPLIYSLRNKDVMGALKKMLTVRFVL</text><text class="n" x="3299.3" y="218.9">315</text></g>
<g id="seq-a0005"><text class="l" x="103" y="233.3">OR2T5:a0005</text><g clip-path="url(#aln)"><text class="s" transform="translate(114,0) scale(1.0078,1)" y="233.3" x="5 15 25 35 45 55 65 75 85 95 105 115 125 135 145 155 165 175 185 195 205 215 225 235 245 255 265 275 285 295 305 315 325 335 345 355 365 375 385 395 405 415 425 435 445 455 465 475 485 495 505 515 525 535 545 555 565 575 585 595 605 615 625 635 645 655 665 675 685 695 705 715 725 735 745 755 765 775 785 795 805 815 825 835 845 855 865 875 885 895 905 915 925 935 945 955 965 975 985 995 1005 1015 1025 1035 1045 1055 1065 1075 1085 1095 1105 1115 1125 1135 1145 1155 1165 1175 1185 1195 1205 1215 1225 1235 1245 1255 1265 1275 1285 1295 1305 1315 1325 1335 1345 1355 1365 1375 1385 1395 1405 1415 1425 1435 1445 1455 1465 1475 1485 1495 1505 1515 1525 1535 1545 1555 1565 1575 1585 1595 1605 1615 1625 1635 1645 1655 1665 1675 1685 1695 1705 1715 1725 1735 1745 1755 1765 1775 1785 1795 1805 1815 1825 1835 1845 1855 1865 1875 1885 1895 1905 1915 1925 1935 1945 1955 1965 1975 1985 1995 2005 2015 2025 2035 2045 2055 2065 2075 2085 2095 2105 2115 2125 2135 2145 2155 2165 2175 2185 2195 2205 2215 2225 2235 2245 2255 2265 2275 2285 2295 2305 2315 2325 2335 2345 2355 2365 2375 2385 2395 2405 2415 2425 2435 2445 2455 2465 2475 2485 2495 2505 2515 2525 2535 2545 2555 2565 2575 2585 2595 2605 2615 2625 2635 2645 2655 2665 2675 2685 2695 2705 2715 2725 2735 2745 2755 2765 2775 2785 2795 2805 2815 2825 2835 2845 2855 2865 2875 2885 2895 2905 2915 2925 2935 2945 2955 2965 2975 2985 2995 3005 3015 3025 3035 3045 3055 3065 3075 3085 3095 3105 3115 3125 3135 3145">MANITWMANHTGRLDFILMGLFR----------------------------------------------------------------------------------------------------------------------------------------------------------------------------------------------------------------------------------------------------------------------------------------------------</text></g><text class="n" x="3299.3" y="233.3">23</text></g>
<g id="seq-a0006"><text class="l" x="103" y="247.7">OR2T5:a0006</text><text class="s" transform="translate(114,0) scale(1.0078,1)" y="247.7" x="5 15 25 35 45 55 65 75 85 95 105 115 125 135 145 155 165 175 185 195 205 215 225 235 245 255 265 275 285 295 305 315 325 335 345 355 365 375 385 395 405 415 425 435 445 455 465 475 485 495 505 515 525 535 545 555 565 575 585 595 605 615 625 635 645 655 665 675 685 695 705 715 725 735 745 755 765 775 785 795 805 815 825 835 845 855 865 875 885 895 905 915 925 935 945 955 965 975 985 995 1005 1015 1025 1035 1045 1055 1065 1075 1085 1095 1105 1115 1125 1135 1145 1155 1165 1175 1185 1195 1205 1215 1225 1235 1245 1255 1265 1275 1285 1295 1305 1315 1325 1335 1345 1355 1365 1375 1385 1395 1405 1415 1425 1435 1445 1455 1465 1475 1485 1495 1505 1515 1525 1535 1545 1555 1565 1575 1585 1595 1605 1615 1625 1635 1645 1655 1665 1675 1685 1695 1705 1715 1725 1735 1745 1755 1765 1775 1785 1795 1805 1815 1825 1835 1845 1855 1865 1875 1885 1895 1905 1915 1925 1935 1945 1955 1965 1975 1985 1995 2005 2015 2025 2035 2045 2055 2065 2075 2085 2095 2105 2115 2125 2135 2145 2155 2165 2175 2185 2195 2205 2215 2225 2235 2245 2255 2265 2275 2285 2295 2305 2315 2325 2335 2345 2355 2365 2375 2385 2395 2405 2415 2425 2435 2445 2455 2465 2475 2485 2495 2505 2515 2525 2535 2545 2555 2565 2575 2585 2595 2605 2615 2625 2635 2645 2655 2665 2675 2685 2695 2705 2715 2725 2735 2745 2755 2765 2775 2785 2795 2805 2815 2825 2835 2845 2855 2865 2875 2885 2895 2905 2915 2925 2935 2945 2955 2965 2975 2985 2995 3005 3015 3025 3035 3045 3055 3065 3075 3085 3095 3105 3115 3125 3135 3145">MANITWMANHTGRLDFILMGLFRQSKHPALLSVVIFVVFLMALSENAVLILLIHCDTYLHTPMYFFISQLSLMDMAYISVTVPKMLLDQVMGVNKISAPECGMQMFLYLTLAGSEFFLLATMAYDRYVAICHPLRYPVLMNHRVCLFLASGCWSLGSVDGFMLTPITMSFPFCRSWEIHHFFCEVPAVTILSCSDTSLYETLMYLCCVLMLLIPVTIISSSYLLILLTIHRMNSAAGRKKAFATCSSHLTVVILFYGAAVYTYMLPSSYHTPEKDMMVSVFYTILTPVLNPLIYSLRNKDVMGALKKMLTVRFVL</text><text class="n" x="3299.3" y="247.7">315</text></g>
<g id="seq-a0013"><text class="l" x="103" y="262.1">OR2T5:a0013</text><text class="s" transform="translate(114,0) scale(1.0078,1)" y="262.1" x="5 15 25 35 45 55 65 75 85 95 105 115 125 135 145 155 165 175 185 195 205 215 225 235 245 255 265 275 285 295 305 315 325 335 345 355 365 375 385 395 405 415 425 435 445 455 465 475 485 495 505 515 525 535 545 555 565 575 585 595 605 615 625 635 645 655 665 675 685 695 705 715 725 735 745 755 765 775 785 795 805 815 825 835 845 855 865 875 885 895 905 915 925 935 945 955 965 975 985 995 1005 1015 1025 1035 1045 1055 1065 1075 1085 1095 1105 1115 1125 1135 1145 1155 1165 1175 1185 1195 1205 1215 1225 1235 1245 1255 1265 1275 1285 1295 1305 1315 1325 1335 1345 1355 1365 1375 1385 1395 1405 1415 1425 1435 1445 1455 1465 1475 1485 1495 1505 1515 1525 1535 1545 1555 1565 1575 1585 1595 1605 1615 1625 1635 1645 1655 1665 1675 1685 1695 1705 1715 1725 1735 1745 1755 1765 1775 1785 1795 1805 1815 1825 1835 1845 1855 1865 1875 1885 1895 1905 1915 1925 1935 1945 1955 1965 1975 1985 1995 2005 2015 2025 2035 2045 2055 2065 2075 2085 2095 2105 2115 2125 2135 2145 2155 2165 2175 2185 2195 2205 2215 2225 2235 2245 2255 2265 2275 2285 2295 2305 2315 2325 2335 2345 2355 2365 2375 2385 2395 2405 2415 2425 2435 2445 2455 2465 2475 2485 2495 2505 2515 2525 2535 2545 2555 2565 2575 2585 2595 2605 2615 2625 2635 2645 2655 2665 2675 2685 2695 2705 2715 2725 2735 2745 2755 2765 2775 2785 2795 2805 2815 2825 2835 2845 2855 2865 2875 2885 2895 2905 2915 2925 2935 2945 2955 2965 2975 2985 2995 3005 3015 3025 3035 3045 3055 3065 3075 3085 3095 3105 3115 3125 3135 3145">MANITWMANHTGRLDFILMGLFRRSKHPALLSVVIFVVFLMALSENAVLILLIHCDTYLHTPMYFFISQLSLMDMAYISVTVPKMLLDQVMGVNKISAPECGMQMFLYLTLAGSEFFLLATMAYDRYVAICHPLRYPVLMNHRVCLFLASGCWSLGSVDGFMLTPITMSFPFCRSWEIHHFFCEVPAVTILSCSDTSLYETLMYLCCVLMLLIPVTIISSSYLLILLTVHRMNSAAGRKKAFATCSSHLTVVILFYGAAVYTYMLPSSYHTPEKDMMVSVFYTILTPVLNPLIYSLRNKDVMGALKKMLTVRFVL</text><text class="n" x="3299.3" y="262.1">315</text></g>
<g id="axis" transform="translate(114,0) scale(1.0078,1)">
<path d="M95 266.4v4.2M195 266.4v4.2M295 266.4v4.2M395 266.4v4.2M495 266.4v4.2M595 266.4v4.2M695 266.4v4.2M795 266.4v4.2M895 266.4v4.2M995 266.4v4.2M1095 266.4v4.2M1195 266.4v4.2M1295 266.4v4.2M1395 266.4v4.2M1495 266.4v4.2M1595 266.4v4.2M1695 266.4v4.2M1795 266.4v4.2M1895 266.4v4.2M1995 266.4v4.2M2095 266.4v4.2M2195 266.4v4.2M2295 266.4v4.2M2395 266.4v4.2M2495 266.4v4.2M2595 266.4v4.2M2695 266.4v4.2M2795 266.4v4.2M2895 266.4v4.2M2995 266.4v4.2M3095 266.4v4.2" stroke="#333" stroke-width="0.8" fill="none"/>
<text class="t" x="95" y="280">10</text><text class="t" x="195" y="280">20</text><text class="t" x="295" y="280">30</text><text class="t" x="395" y="280">40</text><text class="t" x="495" y="280">50</text><text class="t" x="595" y="280">60</text><text class="t" x="695" y="280">70</text><text class="t" x="795" y="280">80</text><text class="t" x="895" y="280">90</text><text class="t" x="995" y="280">100</text><text class="t" x="1095" y="280">110</text><text class="t" x="1195" y="280">120</text><text class="t" x="1295" y="280">130</text><text class="t" x="1395" y="280">140</text><text class="t" x="1495" y="280">150</text><text class="t" x="1595" y="280">160</text><text class="t" x="1695" y="280">170</text><text class="t" x="1795" y="280">180</text><text class="t" x="1895" y="280">190</text><text class="t" x="1995" y="280">200</text><text class="t" x="2095" y="280">210</text><text class="t" x="2195" y="280">220</text><text class="t" x="2295" y="280">230</text><text class="t" x="2395" y="280">240</text><text class="t" x="2495" y="280">250</text><text class="t" x="2595" y="280">260</text><text class="t" x="2695" y="280">270</text><text class="t" x="2795" y="280">280</text><text class="t" x="2895" y="280">290</text><text class="t" x="2995" y="280">300</text><text class="t" x="3095" y="280">310</text>
</g>
<g id="consensus">
<text class="l" x="103" y="308">Consensus</text>
<g transform="translate(114,316.7) scale(10.078,-28.4)">
<rect x="0" width="5" height="1" fill="#1f77b4"/>
<rect x="5" width="1" height="0.625" fill="#73aad0"/>
<rect x="6" width="6" height="1" fill="#1f77b4"/>
<rect x="12" width="1" height="0.9375" fill="#2d80b9"/>
<rect x="13" width="10" height="1" fill="#1f77b4"/>
<rect x="23" width="1" height="0.8125" fill="#4990c2"/>
<rect x="24" width="16" height="0.9375" fill="#2d80b9"/>
<rect x="40" width="1" height="0.5" fill="#8fbbd9"/>
<rect x="41" width="3" height="0.9375" fill="#2d80b9"/>
<rect x="44" width="1" height="0.5" fill="#8fbbd9"/>
<rect x="45" width="4" height="0.9375" fill="#2d80b9"/>
<rect x="49" width="1" height="0.875" fill="#3b88bd"/>
<rect x="50" width="6" height="0.9375" fill="#2d80b9"/>
<rect x="56" width="1" height="0.6875" fill="#65a1cb"/>
<rect x="57" width="1" height="0.75" fill="#5799c7"/>
<rect x="58" width="2" height="0.9375" fill="#2d80b9"/>
<rect x="60" width="1" height="0.5" fill="#8fbbd9"/>
<rect x="61" width="34" height="0.9375" fill="#2d80b9"/>
<rect x="95" width="1" height="0.5" fill="#8fbbd9"/>
<rect x="96" width="15" height="0.9375" fill="#2d80b9"/>
<rect x="111" width="1" height="0.6875" fill="#65a1cb"/>
<rect x="112" width="16" height="0.9375" fill="#2d80b9"/>
<rect x="128" width="1" height="0.875" fill="#3b88bd"/>
<rect x="129" width="24" height="0.9375" fill="#2d80b9"/>
<rect x="153" width="1" height="0.6875" fill="#65a1cb"/>
<rect x="154" width="45" height="0.9375" fill="#2d80b9"/>
<rect x="199" width="1" height="0.6875" fill="#65a1cb"/>
<rect x="200" width="28" height="0.9375" fill="#2d80b9"/>
<rect x="228" width="1" height="0.625" fill="#73aad0"/>
<rect x="229" width="6" height="0.9375" fill="#2d80b9"/>
<rect x="235" width="1" height="0.6875" fill="#65a1cb"/>
<rect x="236" width="39" height="0.9375" fill="#2d80b9"/>
<rect x="275" width="1" height="0.875" fill="#3b88bd"/>
<rect x="276" width="10" height="0.9375" fill="#2d80b9"/>
<rect x="286" width="1" height="0.875" fill="#3b88bd"/>
<rect x="287" width="26" height="0.9375" fill="#2d80b9"/>
<rect x="313" width="1" height="0.875" fill="#3b88bd"/>
<rect x="314" width="1" height="0.9375" fill="#2d80b9"/>
</g>
<line x1="113.6" y1="302.5" x2="3289.2" y2="302.5" stroke="#fff" stroke-width="28.8" stroke-dasharray="0.8 9.278"/>
<text class="s" transform="translate(114,0) scale(1.0078,1)" y="327.8" x="5 15 25 35 45 55 65 75 85 95 105 115 125 135 145 155 165 175 185 195 205 215 225 235 245 255 265 275 285 295 305 315 325 335 345 355 365 375 385 395 405 415 425 435 445 455 465 475 485 495 505 515 525 535 545 555 565 575 585 595 605 615 625 635 645 655 665 675 685 695 705 715 725 735 745 755 765 775 785 795 805 815 825 835 845 855 865 875 885 895 905 915 925 935 945 955 965 975 985 995 1005 1015 1025 1035 1045 1055 1065 1075 1085 1095 1105 1115 1125 1135 1145 1155 1165 1175 1185 1195 1205 1215 1225 1235 1245 1255 1265 1275 1285 1295 1305 1315 1325 1335 1345 1355 1365 1375 1385 1395 1405 1415 1425 1435 1445 1455 1465 1475 1485 1495 1505 1515 1525 1535 1545 1555 1565 1575 1585 1595 1605 1615 1625 1635 1645 1655 1665 1675 1685 1695 1705 1715 1725 1735 1745 1755 1765 1775 1785 1795 1805 1815 1825 1835 1845 1855 1865 1875 1885 1895 1905 1915 1925 1935 1945 1955 1965 1975 1985 1995 2005 2015 2025 2035 2045 2055 2065 2075 2085 2095 2105 2115 2125 2135 2145 2155 2165 2175 2185 2195 2205 2215 2225 2235 2245 2255 2265 2275 2285 2295 2305 2315 2325 2335 2345 2355 2365 2375 2385 2395 2405 2415 2425 2435 2445 2455 2465 2475 2485 2495 2505 2515 2525 2535 2545 2555 2565 2575 2585 2595 2605 2615 2625 2635 2645 2655 2665 2675 2685 2695 2705 2715 2725 2735 2745 2755 2765 2775 2785 2795 2805 2815 2825 2835 2845 2855 2865 2875 2885 2895 2905 2915 2925 2935 2945 2955 2965 2975 2985 2995 3005 3015 3025 3035 3045 3055 3065 3075 3085 3095 3105 3115 3125 3135 3145">MANITWMANHTGRLDFILMGLFRRSKHPALLSVVIFVVFLMALSGNAVLILLIHCDAHLHTPMYFFISQLSLMDMAYISVTVPKMLLDQVMGVNKVSAPECGMQMFLYLTLAGSEFFLLATMAYDRYVAICHPLRYPVLMNHRVCLFLASGCWFLGSVDGFMLTPITMSFPFCRSWEIHHFFCEVPAVTILSCSDTSLYETLMYLCCVLMLLIPVTIISSSYLLILLTIHRMNSAEGRKKAFATCSSHLTVVILFYGAAVYTYMLPSSYHTPEKDMMVSVFYTILTPVLNPLIYSLRNKDVMGALKKMLTVRFVL</text>
</g>
</svg>
